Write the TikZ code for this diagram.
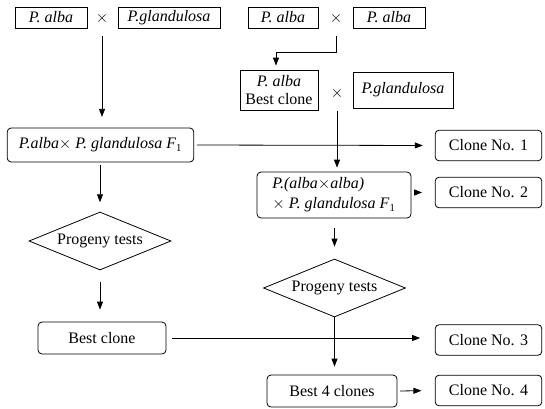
\documentclass[tikz,border=0pt]{standalone}
\usepackage{fontspec}
\setmainfont{Liberation Serif}
\usetikzlibrary{
  positioning,
  calc,
  arrows.meta,
  shapes.geometric
}

\tikzset{
  every node/.style={font=\fontsize{12}{13}\selectfont},
  parent/.style={draw, rectangle, line width=0.6pt, inner sep=1pt, align=center},
  hybrid/.style={draw, rectangle, rounded corners=3pt, line width=0.6pt, inner sep=1pt},
  clone/.style={hybrid, minimum width=80pt, minimum height=23pt},
  tests/.style={draw, diamond, line width=0.6pt, inner sep=0pt, aspect=2.45,
    minimum width=106.5pt, minimum height=43.5pt},
  cross/.style={inner sep=0pt, minimum height=22.5pt},
  flow/.style={line width=0.6pt, -{Triangle[length=6pt,width=4.5pt]},
    shorten >=8pt, shorten <=2pt}
}

\begin{document}
\begin{tikzpicture}[x=0.75pt, y=-0.75pt]
      \useasboundingbox (0,0) rectangle (545,408);

      % Crosses
      \node[parent, minimum width=54pt, minimum height=15.75pt] (alba1) at (51,17.5) {\textit{P. alba}};
      \node[cross] (cross1) at (102,18) {$\times$};
      \node[parent, minimum width=76.5pt, minimum height=15.75pt] (glan1) at (169,17.5) {\textit{P.glandulosa}};

      \node[parent, minimum width=52.5pt, minimum height=15.75pt] (alba2) at (283,17.5) {\textit{P. alba}};
      \node[cross] (cross2) at (336,18) {$\times$};
      \node[parent, minimum width=54pt, minimum height=15.75pt] (alba3) at (389,17.5) {\textit{P. alba}};

      \node[parent, minimum width=58.5pt, minimum height=30pt] (bestalba) at (279,90) {\textit{P. alba}\\Best clone};
      \node[cross] (cross3) at (337,93) {$\times$};
      \node[parent, minimum width=75pt, minimum height=27pt] (glan2) at (403,90) {\textit{P.glandulosa}};

      % Hybrids and tests
      \node[hybrid, minimum width=140pt, minimum height=25.5pt] (hyb1) at (100.5,145)
        {\textit{P.alba}$\times$ \textit{P. glandulosa F}\textsubscript{1}};
      \node[hybrid, align=left, font=\fontsize{12}{15}\selectfont,
        minimum width=115.5pt, minimum height=34.5pt] (hyb2) at (334,195)
        {\textit{P.(alba}$\times$\textit{alba)}\\$\times$ \textit{P. glandulosa F}\textsubscript{1}};

      \node[tests] (test1) at (100,241) {Progeny tests};
      \node[tests] (test2) at (334.5,288) {Progeny tests};

      \node[hybrid, minimum width=96pt, minimum height=24pt] (best1) at (102,338) {Best clone};
      \node[hybrid, minimum width=97.5pt, minimum height=24pt] (best4) at (332,391) {Best 4 clones};

      % Clones
      \foreach \i/\y in {1/145.5, 2/192.5, 3/340, 4/390.5} {
        \node[clone] (clone\i) at (488.5,\y) {Clone No. \i};
      }

      % Arrows
      \coordinate (bend) at (276,52);
      \draw[flow] (cross1.south) -- (cross1.south |- hyb1.north);
      \draw[flow, shorten >=3pt] (cross2.south) |- (bend) -- (bend |- bestalba.north);
      \draw[flow, shorten >=3pt] (cross3.south) -- (cross3.south |- hyb2.north);

      \draw[flow, shorten >=9pt] (hyb1.east) -- (clone1.west);
      \draw[flow, shorten >=9.5pt] (hyb2.east |- clone2.west) -- (clone2.west);
      \draw[flow, shorten >=11pt, shorten <=4pt] (best1.east) -- (best1.east -| clone3.west);
      \draw[flow, shorten >=10pt] (best4.east) -- (clone4.west);

      \draw[flow, shorten >=7pt] (hyb1.south -| test1.north) -- (test1.north);
      \draw[flow, shorten >=9pt, shorten <=9pt] (test1.south) -- (test1.south |- best1.north);
      \draw[flow, shorten >=9pt, shorten <=7pt] (hyb2.south -| test2.north) -- (test2.north);
      \draw[flow, shorten >=6pt, shorten <=0pt] (test2.south) -- (test2.south |- best4.north);
    \end{tikzpicture}
\end{document}
